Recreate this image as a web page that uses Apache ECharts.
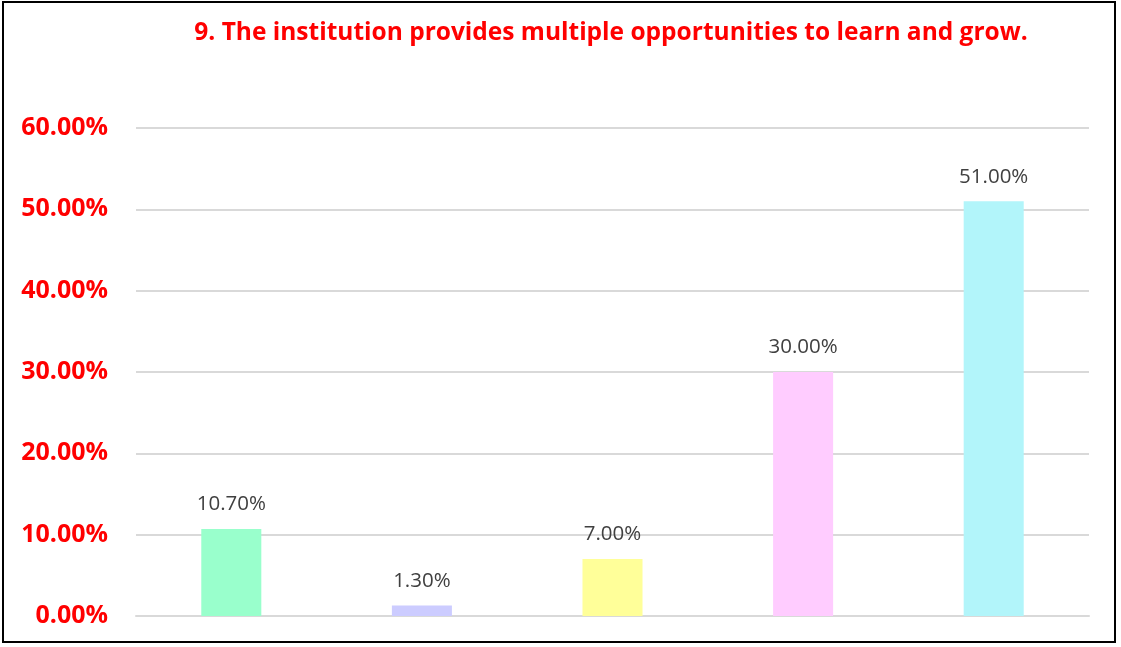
<!DOCTYPE html>
<html>
<head>
<meta charset="utf-8">
<script src="https://cdn.jsdelivr.net/npm/echarts@6/dist/echarts.min.js"></script>
<style>
  html, body { margin: 0; padding: 0; background: #fff; }
  #frame {
    position: absolute;
    left: 2px; top: 1px;
    width: 1114px; height: 642px;
    border: 2px solid #000;
    box-sizing: border-box;
  }
  #chart { position: absolute; left: 0; top: 0; width: 1121px; height: 647px; }
</style>
</head>
<body>
<div id="frame"></div>
<div id="chart"></div>
<script>
const titleText = '9. The institution provides multiple opportunities to learn and grow.'
const categories = ['Strongly Disagree', 'Disagree', 'Neutral', 'Agree', 'Strongly Agree']
const percentValues = [10.7, 1.3, 7.0, 30.0, 51.0]
const yTicks = [0, 10, 20, 30, 40, 50, 60]

const barColors = ['#99ffcc', '#ccccff', '#ffff99', '#ffccff', '#b2f5fa']

const chart = echarts.init(document.getElementById('chart'))

const option = {
  animation: false,
  title: {
    text: titleText,
    left: 606,
    textAlign: 'center',
    top: 16,
    textStyle: {
      color: '#ff0000',
      fontFamily: 'Open Sans',
      fontWeight: 'bold',
      fontSize: 24.5
    }
  },
  grid: {
    left: 136,
    right: 32,
    top: 128,
    bottom: 31
  },
  xAxis: {
    type: 'category',
    data: categories,
    axisLine: { show: true, lineStyle: { color: '#d9d9d9', width: 2 } },
    axisTick: { show: false },
    axisLabel: { show: false }
  },
  yAxis: {
    type: 'value',
    min: yTicks[0],
    max: yTicks[yTicks.length - 1],
    interval: 10,
    axisLine: { show: false },
    axisTick: { show: false },
    axisLabel: {
      margin: 28,
      color: '#ff0000',
      fontFamily: 'Open Sans',
      fontWeight: 'bold',
      fontSize: 25,
      formatter: (v) => v.toFixed(2) + '%'
    },
    splitLine: {
      lineStyle: { color: '#d9d9d9', width: 2 }
    }
  },
  series: [{
    type: 'bar',
    barWidth: '31.5%',
    data: percentValues.map((v, i) => ({
      value: v,
      itemStyle: { color: barColors[i] }
    })),
    label: {
      show: true,
      position: 'top',
      distance: 14,
      color: '#404040',
      fontFamily: 'Open Sans',
      fontSize: 20.5,
      formatter: (p) => p.value.toFixed(2) + '%'
    }
  }]
}

option && chart.setOption(option)
</script>
</body>
</html>
